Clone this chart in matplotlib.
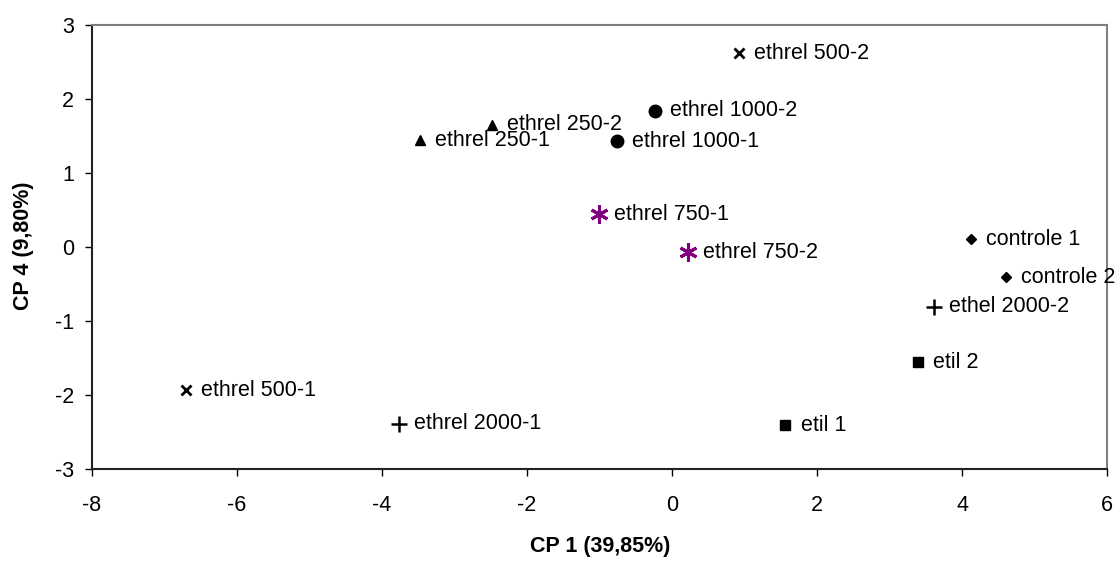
import matplotlib.pyplot as plt

plt.rcParams["font.family"] = ["Liberation Sans", "DejaVu Sans"]
plt.rcParams["axes.unicode_minus"] = False

# scores
names = ["ethrel 500-2", "ethrel 1000-2", "ethrel 250-2", "ethrel 250-1", "ethrel 1000-1",
         "ethrel 750-1", "ethrel 750-2", "controle 1", "controle 2", "ethel 2000-2",
         "etil 2", "ethrel 500-1", "ethrel 2000-1", "etil 1"]
cp1 = [0.92, -0.24, -2.49, -3.48, -0.76, -1.01, 0.22, 4.12, 4.60, 3.61, 3.39, -6.71, -3.77, 1.56]
cp4 = [2.62, 1.84, 1.65, 1.445, 1.43, 0.444, -0.07, 0.106, -0.41, -0.81, -1.56, -1.94, -2.39, -2.41]
groups = ["500", "1000", "250", "250", "1000", "750", "750", "ctrl", "ctrl", "2000",
          "etil", "500", "2000", "etil"]

style = {
    "500": dict(marker="x", ms=7, mew=2, color="black"),
    "1000": dict(marker="o", ms=9, color="black"),
    "250": dict(marker="^", ms=7.5, color="black"),
    "750": dict(marker=(6, 2, 0), ms=13, mew=2.2, color="#800080"),
    "ctrl": dict(marker="D", ms=5, color="black"),
    "2000": dict(marker="+", ms=12, mew=1.8, color="black"),
    "etil": dict(marker="s", ms=7, color="black"),
}

fig = plt.figure(figsize=(11.19, 5.78), dpi=100)
ax = fig.add_axes([0.0822, 0.1891, 0.9073, 0.7676])

for n, x, y, g in zip(names, cp1, cp4, groups):
    ax.plot(x, y, linestyle="none", **style[g])
    ax.annotate(n, (x, y), xytext=(11, 0), textcoords="offset points",
                va="center", ha="left", fontsize=15.5, annotation_clip=False)

ax.set_xlim(-8, 6)
ax.set_ylim(-3, 3)
ax.set_xticks(range(-8, 7, 2))
ax.set_yticks(range(-3, 4))

for s in ["top", "right"]:
    ax.spines[s].set_color("#808080")
    ax.spines[s].set_linewidth(1.5)
for s in ["left", "bottom"]:
    ax.spines[s].set_color("#222222")
    ax.spines[s].set_linewidth(1.5)

ax.tick_params(axis="x", direction="out", length=5, width=1, labelsize=15.5, pad=14)
ax.tick_params(axis="y", direction="out", length=5, width=1, labelsize=15.5, pad=8)

fig.text(0.536, 0.055, "CP 1 (39,85%)", ha="center", va="center",
         fontsize=15.5, fontweight="bold")
fig.text(0.021, 0.574, "CP 4 (9,80%)", ha="center", va="center",
         fontsize=15.5, fontweight="bold", rotation=90)

fig.savefig("out.png", dpi=100)
